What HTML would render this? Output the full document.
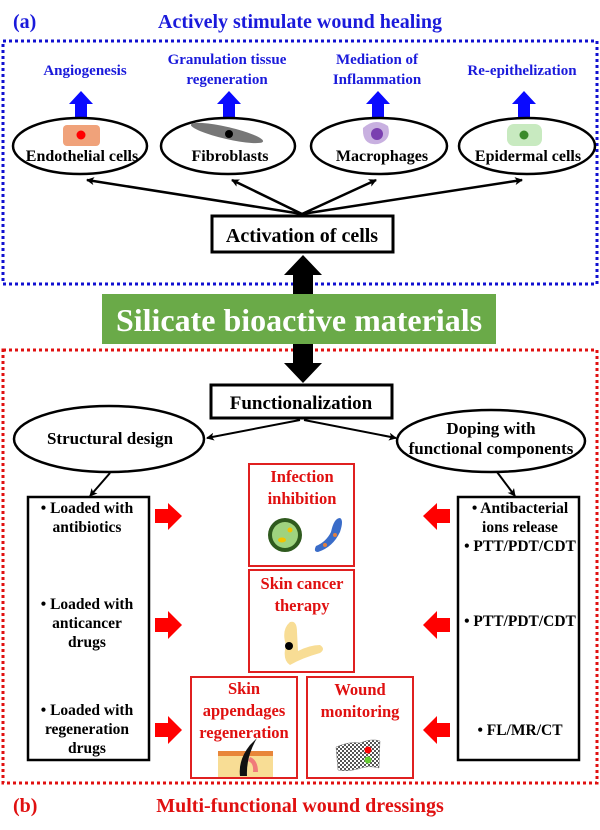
<!DOCTYPE html>
<html><head><meta charset="utf-8"><style>
html,body{margin:0;padding:0;background:#fff;}
svg{display:block;font-family:"Liberation Serif",serif;font-weight:bold;}
</style></head><body>
<svg width="600" height="830" viewBox="0 0 600 830" xmlns="http://www.w3.org/2000/svg">
<defs>
<marker id="ah" markerWidth="8" markerHeight="8" refX="7" refY="4" orient="auto" markerUnits="userSpaceOnUse"><path d="M0,0 L8,4 L0,8 L2,4 Z" fill="#000"/></marker>
<pattern id="chk" width="4" height="4" patternUnits="userSpaceOnUse"><rect width="4" height="4" fill="#fff"/><rect width="2" height="2" fill="#555"/><rect x="2" y="2" width="2" height="2" fill="#555"/></pattern>
</defs>
<text x="13" y="28" font-size="20" fill="#1a1adb">(a)</text>
<text x="300" y="28" font-size="20" fill="#1a1adb" text-anchor="middle">Actively stimulate wound healing</text>
<rect x="3" y="41" width="594" height="243" fill="none" stroke="#1010d0" stroke-width="3" stroke-dasharray="3,3"/>
<g font-size="15" fill="#1a1adb" text-anchor="middle">
<text x="85" y="75">Angiogenesis</text>
<text x="227" y="64">Granulation tissue</text><text x="227" y="84">regeneration</text>
<text x="377" y="64">Mediation of</text><text x="377" y="84">Inflammation</text>
<text x="522" y="75">Re-epithelization</text>
</g>
<g fill="#0a0aff">
<path d="M69,104 L81,91 L93,104 L87,104 L87,118 L75,118 L75,104Z"/>
<path d="M217,104 L229,91 L241,104 L235,104 L235,118 L223,118 L223,104Z"/>
<path d="M366,104 L378,91 L390,104 L384,104 L384,118 L372,118 L372,104Z"/>
<path d="M512,104 L524,91 L536,104 L530,104 L530,118 L518,118 L518,104Z"/>
</g>
<g fill="#fff" stroke="#000" stroke-width="2.5">
<ellipse cx="80" cy="146" rx="67" ry="28"/>
<ellipse cx="228" cy="146" rx="67" ry="28"/>
<ellipse cx="379" cy="146" rx="68" ry="28"/>
<ellipse cx="527" cy="146" rx="68" ry="28"/>
</g>
<rect x="63" y="125" width="37" height="21" rx="4" fill="#f0a27a"/><circle cx="81" cy="135" r="4.5" fill="#f00"/>
<ellipse cx="227" cy="133" rx="37" ry="6" transform="rotate(13 227 133)" fill="#777"/><circle cx="229" cy="134" r="4" fill="#000"/>
<path d="M363,128 Q375,117 388,126 Q392,140 378,144 Q362,146 363,128Z" fill="#c8b0e0"/><circle cx="377" cy="134" r="6" fill="#7a3fb0"/>
<rect x="507" y="124" width="35" height="22" rx="7" fill="#c8eac0"/><circle cx="524" cy="135" r="4.5" fill="#3a8a2a"/>
<g font-size="16" fill="#000" text-anchor="middle">
<text x="82" y="161">Endothelial cells</text>
<text x="230" y="161">Fibroblasts</text>
<text x="382" y="161">Macrophages</text>
<text x="528" y="161">Epidermal cells</text>
</g>
<g stroke="#000" stroke-width="2.5" marker-end="url(#ah)">
<line x1="302" y1="214" x2="87" y2="180"/>
<line x1="302" y1="214" x2="232" y2="180"/>
<line x1="302" y1="214" x2="376" y2="180"/>
<line x1="302" y1="214" x2="522" y2="180"/>
</g>
<rect x="212" y="216" width="181" height="36" fill="#fff" stroke="#000" stroke-width="3"/>
<text x="302" y="242" font-size="20" text-anchor="middle">Activation of cells</text>
<path d="M284,275 L303,255 L322,275 L313,275 L313,296 L293,296 L293,275Z" fill="#000"/>
<rect x="102" y="294" width="394" height="50" fill="#6aaa48"/>
<text x="299" y="331" font-size="32" fill="#fff" text-anchor="middle">Silicate bioactive materials</text>
<rect x="3" y="350" width="594" height="433" fill="none" stroke="#e01010" stroke-width="3" stroke-dasharray="3,3"/>
<path d="M293,344 L313,344 L313,363 L322,363 L303,383 L284,363 L293,363Z" fill="#000"/>
<rect x="211" y="385" width="181" height="33" fill="#fff" stroke="#000" stroke-width="3"/>
<text x="301" y="409" font-size="19" text-anchor="middle">Functionalization</text>
<g fill="#fff" stroke="#000" stroke-width="2.5">
<ellipse cx="109" cy="439" rx="95" ry="33"/>
<ellipse cx="491" cy="441" rx="94" ry="31"/>
</g>
<text x="110" y="444" font-size="17" text-anchor="middle">Structural design</text>
<text x="491" y="434" font-size="17" text-anchor="middle">Doping with</text>
<text x="491" y="454" font-size="17" text-anchor="middle">functional components</text>
<g stroke="#000" stroke-width="2" marker-end="url(#ah)">
<line x1="300" y1="420" x2="207" y2="438"/>
<line x1="304" y1="420" x2="396" y2="438"/>
<line x1="110" y1="473" x2="90" y2="496"/>
<line x1="497" y1="472" x2="515" y2="496"/>
</g>
<rect x="28" y="497" width="121" height="263" fill="#fff" stroke="#000" stroke-width="2.5"/>
<rect x="458" y="497" width="121" height="263" fill="#fff" stroke="#000" stroke-width="2.5"/>
<g font-size="15.5" text-anchor="middle">
<text x="87" y="513">• Loaded with</text><text x="87" y="532">antibiotics</text>
<text x="87" y="609">• Loaded with</text><text x="87" y="628">anticancer</text><text x="87" y="647">drugs</text>
<text x="87" y="715">• Loaded with</text><text x="87" y="734">regeneration</text><text x="87" y="753">drugs</text>
<text x="520" y="513">• Antibacterial</text><text x="520" y="532">ions release</text><text x="520" y="551">• PTT/PDT/CDT</text>
<text x="520" y="626">• PTT/PDT/CDT</text>
<text x="520" y="735">• FL/MR/CT</text>
</g>
<g fill="#f00">
<path d="M155,509 L168,509 L168,503 L182,516 L168,530 L168,523 L155,523Z"/>
<path d="M155,618 L168,618 L168,611 L182,625 L168,639 L168,632 L155,632Z"/>
<path d="M155,723 L168,723 L168,716 L182,730 L168,744 L168,737 L155,737Z"/>
<path d="M450,509 L437,509 L437,503 L423,516 L437,530 L437,523 L450,523Z"/>
<path d="M450,618 L437,618 L437,611 L423,625 L437,639 L437,632 L450,632Z"/>
<path d="M450,723 L437,723 L437,716 L423,730 L437,744 L437,737 L450,737Z"/>
</g>
<g fill="#fff" stroke="#e02020" stroke-width="2">
<rect x="249" y="464" width="105" height="102"/>
<rect x="249" y="570" width="105" height="102"/>
<rect x="191" y="677" width="106" height="101"/>
<rect x="307" y="677" width="106" height="101"/>
</g>
<g font-size="16.5" fill="#e01010" text-anchor="middle">
<text x="302" y="482">Infection</text><text x="302" y="504">inhibition</text>
<text x="302" y="589">Skin cancer</text><text x="302" y="611">therapy</text>
<text x="244" y="694">Skin</text><text x="244" y="716">appendages</text><text x="244" y="738">regeneration</text>
<text x="360" y="695">Wound</text><text x="360" y="717">monitoring</text>
</g>
<circle cx="285" cy="535" r="17" fill="#2f5a1e"/><circle cx="285" cy="535" r="13" fill="#9fd37f"/>
<ellipse cx="282" cy="540" rx="4" ry="2.5" fill="#f2c300"/><circle cx="290" cy="530" r="2.5" fill="#f2c300"/>
<path d="M318,552 Q333,547 340,532 Q344,520 340,518 Q334,518 331,532 Q326,542 316,546 Q313,552 318,552Z" fill="#3a6cc8"/>
<circle cx="325" cy="545" r="2" fill="#e08040"/><circle cx="335" cy="535" r="2" fill="#e08040"/>
<path d="M286,645 Q281,630 290,622 Q297,620 297,632 L298,651 Q310,645 320,645 Q326,649 320,653 Q302,658 290,665 Q282,660 286,645Z" fill="#f8dd95"/>
<circle cx="289" cy="646" r="4" fill="#000"/>
<rect x="218" y="752" width="55" height="25" fill="#f8dd95"/><rect x="218" y="751" width="55" height="5" fill="#e8863a"/>
<path d="M240,776 Q238,760 250,745 L257,738 Q246,757 247,776Z" fill="#111"/><path d="M250,757 Q258,760 258,772 L253,772 Q254,763 248,761Z" fill="#f07a7a"/>
<path d="M336,747 Q350,741 360,743 Q372,738 380,741 L379,768 Q368,765 358,769 Q346,772 338,770Z" fill="url(#chk)" stroke="#777" stroke-width="0.5"/>
<circle cx="368" cy="750" r="3.5" fill="#f00"/><circle cx="368" cy="760" r="3.5" fill="#6c3"/>
<text x="13" y="812" font-size="20" fill="#e01010">(b)</text>
<text x="300" y="812" font-size="20" fill="#e01010" text-anchor="middle">Multi-functional wound dressings</text>
</svg>
</body></html>
